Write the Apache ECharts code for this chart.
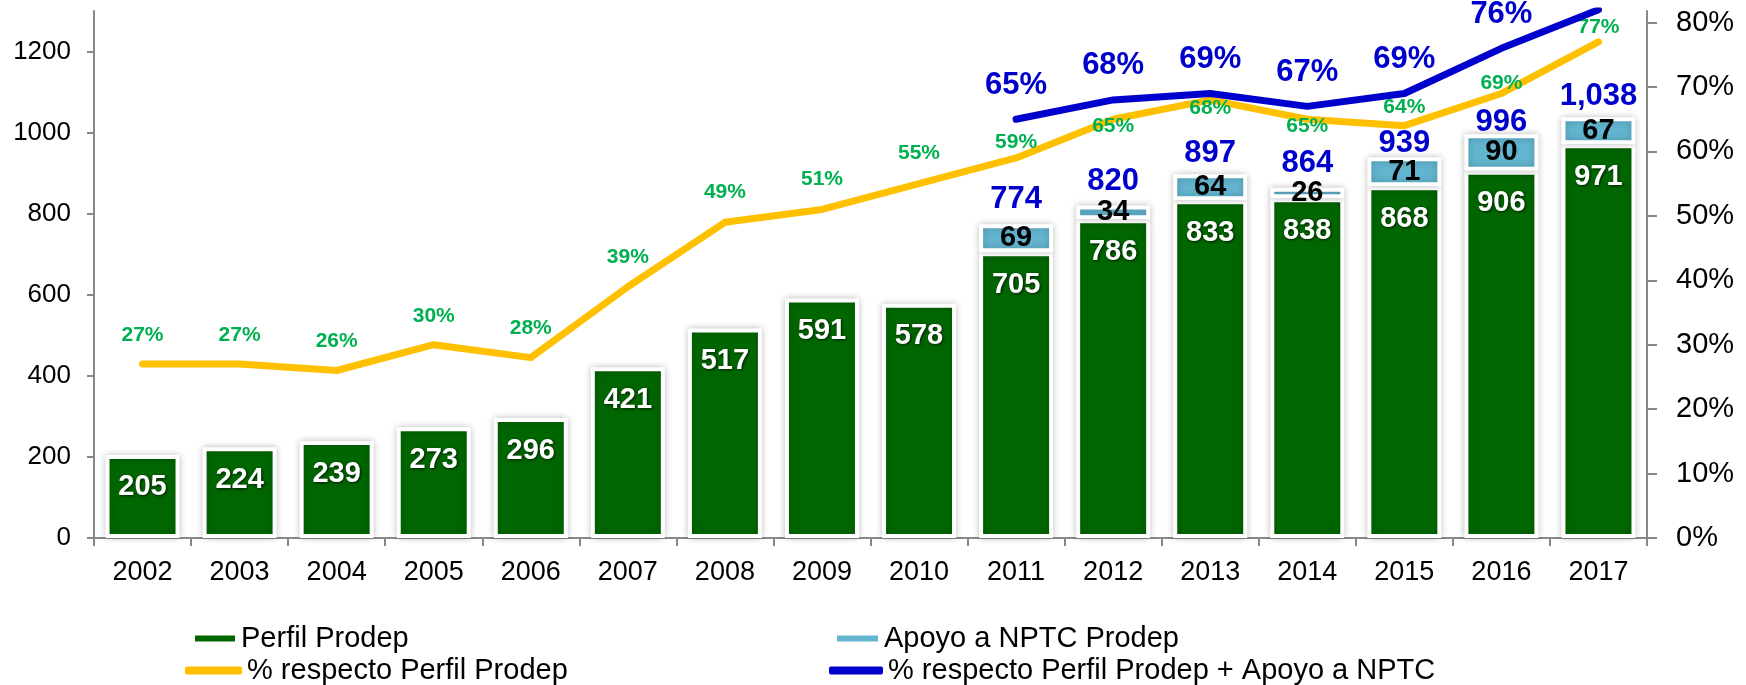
<!DOCTYPE html>
<html>
<head>
<meta charset="utf-8">
<script src="https://cdn.jsdelivr.net/npm/echarts@6/dist/echarts.min.js"></script>
<style>
  html, body { margin: 0; padding: 0; background: #fff; }
  #chart { width: 1746px; height: 685px; }
</style>
</head>
<body>
<div id="chart"></div>
<script>
const years = ["2002", "2003", "2004", "2005", "2006", "2007", "2008", "2009",
  "2010", "2011", "2012", "2013", "2014", "2015", "2016", "2017"];
const perfilProdep = [205, 224, 239, 273, 296, 421, 517, 591, 578, 705, 786, 833, 838, 868, 906, 971];
const apoyoNptc = [null, null, null, null, null, null, null, null, null, 69, 34, 64, 26, 71, 90, 67];
const totalProdep = [null, null, null, null, null, null, null, null, null, 774, 820, 897, 864, 939, 996, 1038];
const pctPerfil = [27, 27, 26, 30, 28, 39, 49, 51, 55, 59, 65, 68, 65, 64, 69, 77];
const pctTotal = [null, null, null, null, null, null, null, null, null, 65, 68, 69, 67, 69, 76, 82];
const countTicks = [0, 200, 400, 600, 800, 1000, 1200];
const pctTicks = [0, 10, 20, 30, 40, 50, 60, 70, 80];

// label nudges (px)
const pctPerfilLabelDy = [-29, -29, -29, -29, -29, -30, -30, -30, -30, -16, 7, 8, 7, -18, -10, -15];
const totalLabelDy = [0, 0, 0, 0, 0, 0, 0, 0, 0, -25, -24, -21, -24, -14, -12, -21];

const FONT = "Liberation Sans, Arial, sans-serif";
const PCT_MAX = 81.8;
const GREEN = "#006600";
const NPTC_BLUE = "#62B4CF";
const YELLOW = "#FFC000";
const LINE_BLUE = "#0000CC";
const AXIS_GREY = "#888888";

const barBorder = {
  borderColor: "#ffffff",
  borderWidth: 4,
  shadowColor: "rgba(0,0,0,0.22)",
  shadowBlur: 7,
};

const chart = echarts.init(document.getElementById("chart"));

const axisLine = { show: true, lineStyle: { color: AXIS_GREY, width: 2 } };

const legendItems = [
  { name: "Perfil Prodep", left: 193, top: 624, icon: "rect", w: 42, h: 8 },
  { name: "Apoyo a NPTC Prodep", left: 835, top: 624, icon: "rect", w: 43, h: 8 },
  { name: "% respecto Perfil Prodep", left: 185, top: 656, icon: "roundRect", w: 57, h: 8 },
  { name: "% respecto Perfil Prodep + Apoyo a NPTC", left: 829, top: 656, icon: "roundRect", w: 54, h: 8 },
];

chart.setOption({
  animation: false,
  backgroundColor: "#ffffff",
  textStyle: { fontFamily: FONT },
  grid: { left: 94, right: 99, top: 11, bottom: 147 },
  legend: legendItems.map((l) => ({
    data: [{ name: l.name, icon: l.icon }],
    left: l.left,
    top: l.top,
    padding: 0,
    itemWidth: l.w,
    itemHeight: l.h,
    textStyle: { fontSize: 29, color: "#000", fontFamily: FONT },
    selectedMode: false,
  })),
  xAxis: {
    type: "category",
    data: years,
    axisLine,
    axisTick: { show: true, length: 8, lineStyle: { color: AXIS_GREY, width: 2 } },
    axisLabel: { fontSize: 27, color: "#000", margin: 21, fontFamily: FONT },
  },
  yAxis: [
    {
      type: "value",
      min: 0,
      max: 1300,
      interval: 100,
      axisLine,
      splitLine: { show: false },
      axisTick: { show: true, length: 7, customValues: countTicks, lineStyle: { color: AXIS_GREY, width: 2 } },
      axisLabel: {
        fontSize: 26,
        color: "#000",
        margin: 23,
        customValues: countTicks,
        formatter: (v) => String(v),
        fontFamily: FONT,
      },
    },
    {
      type: "value",
      min: 0,
      max: PCT_MAX,
      interval: 10,
      position: "right",
      axisLine,
      splitLine: { show: false },
      axisTick: { show: true, length: 10, customValues: pctTicks, lineStyle: { color: AXIS_GREY, width: 2 } },
      axisLabel: {
        fontSize: 29,
        color: "#000",
        margin: 29,
        customValues: pctTicks,
        formatter: "{value}%",
        fontFamily: FONT,
      },
    },
  ],
  series: [
    {
      name: "Perfil Prodep",
      type: "bar",
      stack: "prodep",
      barWidth: 74,
      itemStyle: { color: GREEN, ...barBorder },
      label: {
        show: true,
        position: "insideTop",
        distance: 18,
        fontSize: 29,
        fontWeight: "bold",
        color: "#fff",
        fontFamily: FONT,
        textShadowColor: "rgba(0,0,0,0.7)",
        textShadowBlur: 3,
        textShadowOffsetX: 1,
        textShadowOffsetY: 1,
      },
      data: perfilProdep,
    },
    {
      name: "Apoyo a NPTC Prodep",
      type: "bar",
      stack: "prodep",
      barWidth: 74,
      itemStyle: { color: NPTC_BLUE, ...barBorder },
      label: {
        show: true,
        position: "inside",
        fontSize: 29,
        fontWeight: "bold",
        color: "#000",
        fontFamily: FONT,
      },
      data: apoyoNptc,
    },
    {
      name: "totals",
      type: "scatter",
      symbol: "circle",
      symbolSize: 1,
      itemStyle: { color: "transparent", opacity: 1 },
      z: 5,
      label: {
        show: true,
        position: "inside",
        fontSize: 31,
        fontWeight: "bold",
        color: LINE_BLUE,
        opacity: 1,
        fontFamily: FONT,
        formatter: (p) => p.value.toLocaleString("en-US"),
      },
      data: totalProdep.map((v, i) => (v == null ? null : { value: v, label: { offset: [0, totalLabelDy[i]] } })),
    },
    {
      name: "% respecto Perfil Prodep",
      type: "line",
      yAxisIndex: 1,
      symbol: "circle",
      symbolSize: 1,
      lineStyle: { color: YELLOW, width: 7, cap: "round", join: "round" },
      itemStyle: { color: YELLOW },
      z: 6,
      label: {
        show: true,
        position: "inside",
        fontSize: 21,
        fontWeight: "bold",
        color: "#00B050",
        fontFamily: FONT,
        formatter: "{c}%",
      },
      data: pctPerfil.map((v, i) => ({ value: v, label: { offset: [0, pctPerfilLabelDy[i]] } })),
    },
    {
      name: "% respecto Perfil Prodep + Apoyo a NPTC",
      type: "line",
      yAxisIndex: 1,
      symbol: "circle",
      symbolSize: 1,
      lineStyle: { color: LINE_BLUE, width: 7, cap: "round", join: "round" },
      itemStyle: { color: LINE_BLUE },
      z: 7,
      label: {
        show: true,
        position: "inside",
        offset: [0, -34],
        fontSize: 31,
        fontWeight: "bold",
        color: LINE_BLUE,
        fontFamily: FONT,
        formatter: "{c}%",
      },
      data: pctTotal.map((v) => (v == null ? null : { value: v, label: { show: v <= PCT_MAX } })),
    },
  ],
});
</script>
</body>
</html>
